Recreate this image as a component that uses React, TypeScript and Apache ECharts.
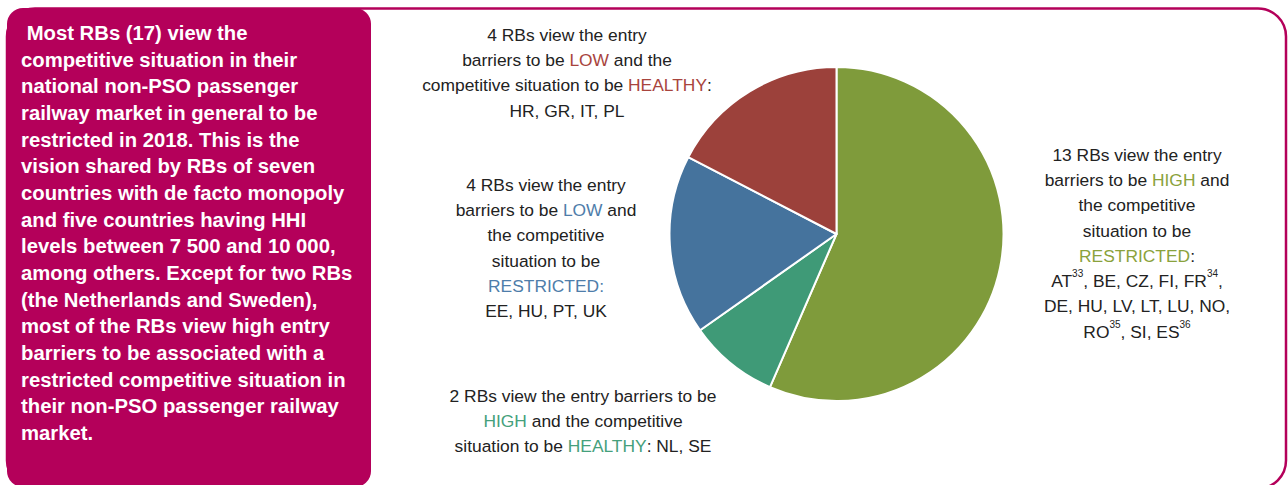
import React, { useEffect, useRef } from "react";
import * as echarts from "echarts";

const categories = ["HIGH barriers / RESTRICTED", "HIGH barriers / HEALTHY", "LOW barriers / RESTRICTED", "LOW barriers / HEALTHY"];
const values = [13, 2, 4, 4];
const sliceColors = ["#7F9B3B", "#3F9A77", "#45739D", "#9C413B"];

const boxLines = [
  " Most RBs (17) view the",
  "competitive situation in their",
  "national non-PSO passenger",
  "railway market in general to be",
  "restricted in 2018. This is the",
  "vision shared by RBs of seven",
  "countries with de facto monopoly",
  "and five countries having HHI",
  "levels between 7 500 and 10 000,",
  "among others. Except for two RBs",
  "(the Netherlands and Sweden),",
  "most of the RBs view high entry",
  "barriers to be associated with a",
  "restricted competitive situation in",
  "their non-PSO passenger railway",
  "market.",
];

const labelHighRestricted = [
  "13 RBs view the entry",
  "barriers to be {g|HIGH} and",
  "the competitive",
  "situation to be",
  "{g|RESTRICTED}:",
  "AT{sup|33}, BE, CZ, FI, FR{sup|34},",
  "DE, HU, LV, LT, LU, NO,",
  "RO{sup|35}, SI, ES{sup|36}",
];
const labelHighHealthy = [
  "2 RBs view the entry barriers to be",
  "{t|HIGH} and the competitive",
  "situation to be {t|HEALTHY}: NL, SE",
];
const labelLowRestricted = [
  "4 RBs view the entry",
  "barriers to be {b|LOW} and",
  "the competitive",
  "situation to be",
  "{b|RESTRICTED:}",
  "EE, HU, PT, UK",
];
const labelLowHealthy = [
  "4 RBs view the entry",
  "barriers to be {r|LOW} and the",
  "competitive situation to be {r|HEALTHY}:",
  "HR, GR, IT, PL",
];

const MAGENTA = "#B4005A";
const FONT = "'Liberation Sans', Arial, sans-serif";
const FS = 17.4;

export default function App() {
  const ref = useRef<HTMLDivElement>(null);
  useEffect(() => {
    if (!ref.current) return;
    const chart = echarts.init(ref.current, null, { renderer: "svg" });
    const rich = {
      g: { fontSize: FS, fontFamily: FONT, fill: "#8AA23C", lineHeight: 25.3 },
      t: { fontSize: FS, fontFamily: FONT, fill: "#45A07C", lineHeight: 25.3 },
      b: { fontSize: FS, fontFamily: FONT, fill: "#4E7DAA", lineHeight: 25.3 },
      r: { fontSize: FS, fontFamily: FONT, fill: "#A8443D", lineHeight: 25.3 },
      sup: { fontSize: 10, fontFamily: FONT, fill: "#222", lineHeight: 25, verticalAlign: "top" },
    };
    const lbl = (lines: string[], x: number, y: number) => ({
      type: "text",
      x,
      y,
      z: 10,
      style: {
        text: lines.join("\n"),
        align: "center",
        verticalAlign: "top",
        fontSize: FS,
        fontFamily: FONT,
        fill: "#222",
        lineHeight: 25.3,
        rich,
      },
    });
    chart.setOption({
      animation: false,
      backgroundColor: "#fff",
      graphic: [
        {
          type: "rect",
          z: 0,
          shape: { x: 7, y: 8.5, width: 1279, height: 480, r: 28 },
          style: { fill: "none", stroke: MAGENTA, lineWidth: 2.5 },
        },
        {
          type: "rect",
          z: 1,
          shape: { x: 7, y: 8, width: 364, height: 479, r: 16 },
          style: { fill: MAGENTA },
        },
        {
          type: "text",
          z: 2,
          x: 21,
          y: 19.5,
          style: {
            text: boxLines.join("\n"),
            fontSize: 20.3,
            fontWeight: "bold",
            fontFamily: FONT,
            fill: "#fff",
            lineHeight: 26.67,
          },
        },
        lbl(labelLowHealthy, 567, 22),
        lbl(labelLowRestricted, 546, 172),
        lbl(labelHighRestricted, 1137, 142),
        lbl(labelHighHealthy, 583, 383),
      ],
      series: [
        {
          type: "pie",
          silent: true,
          center: [836.5, 234],
          radius: 167,
          startAngle: 90,
          clockwise: true,
          label: { show: false },
          labelLine: { show: false },
          itemStyle: { borderColor: "#fff", borderWidth: 2 },
          data: categories.map((name, i) => ({
            name,
            value: values[i],
            itemStyle: { color: sliceColors[i] },
          })),
        },
      ],
    });
    return () => chart.dispose();
  }, []);
  return (
    <div
      ref={ref}
      style={{ position: "absolute", left: 0, top: 0, width: 1288, height: 485 }}
    />
  );
}
